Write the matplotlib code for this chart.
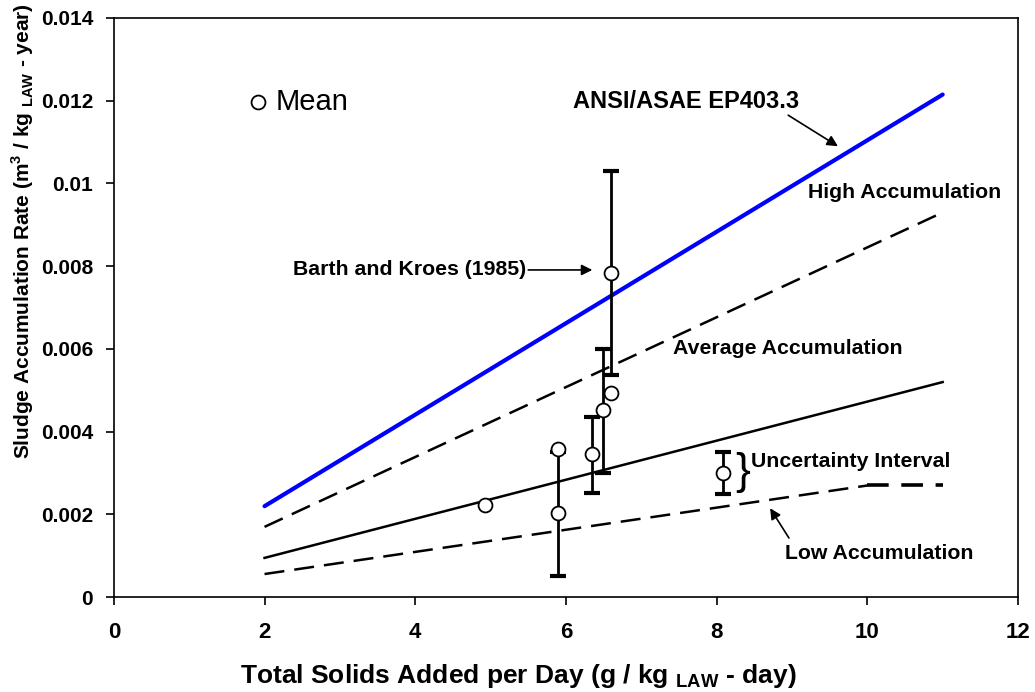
import matplotlib
matplotlib.use('Agg')
import matplotlib.pyplot as plt

plt.rcParams['font.family'] = 'Liberation Sans'
plt.rcParams['mathtext.fontset'] = 'custom'
plt.rcParams['mathtext.rm'] = 'Liberation Sans'
plt.rcParams['mathtext.bf'] = 'Liberation Sans:bold'

# lines (x, y)
ansi_x = [2, 11]
ansi_y = [0.0022, 0.01215]
high_x = [2, 11]
high_y = [0.0017, 0.0093]
avg_x = [2, 11]
avg_y = [0.00095, 0.0052]
low_x = [2, 10, 11]
low_y = [0.00056, 0.0027, 0.0027]

# means with error bars
err_x = [5.9, 6.34, 6.49, 6.6, 8.09]
err_mean = [0.00203, 0.00345, 0.00452, 0.00784, 0.00301]
err_lo = [0.00051, 0.00253, 0.00301, 0.00537, 0.00249]
err_hi = [0.00351, 0.00436, 0.0060, 0.01031, 0.00351]

# means without error bars
pt_x = [4.93, 5.9, 6.6]
pt_y = [0.00222, 0.00358, 0.00494]

fig = plt.figure(figsize=(10.35, 6.92), dpi=100)
ax = fig.add_axes([0.110, 0.137, 0.8736, 0.837])

ax.plot(ansi_x, ansi_y, color='#0000ff', lw=3, solid_capstyle='round', zorder=2)
ax.plot(high_x, high_y, color='black', lw=1.8, linestyle=(0, (8, 4)), zorder=2)
ax.plot(avg_x, avg_y, color='black', lw=1.8, zorder=2)
ax.plot(low_x[:2], low_y[:2], color='black', lw=1.8, linestyle=(0, (8, 4)), zorder=2)
ax.plot(low_x[1:], low_y[1:], color='black', lw=2.6, linestyle=(0, (6, 3.5)), zorder=2)

yerr = [[m - l for m, l in zip(err_mean, err_lo)],
        [h - m for m, h in zip(err_mean, err_hi)]]
ax.errorbar(err_x, err_mean, yerr=yerr, fmt='none', ecolor='black',
            elinewidth=2, capsize=6, capthick=3, zorder=3)
ax.plot(err_x + pt_x, err_mean + pt_y, 'o', ms=10, mfc='white', mec='black',
        mew=1.3, zorder=4)

# legend-like mean marker
ax.plot([1.91], [0.01197], 'o', ms=10, mfc='white', mec='black', mew=1.3, clip_on=False)
ax.text(2.15, 0.01197, 'Mean', fontsize=21, va='center', ha='left')

bold = dict(fontsize=15.3, fontweight='bold')
arrow = dict(arrowstyle='-|>', color='black', lw=1.2, shrinkA=0, shrinkB=0,
             mutation_scale=16)

ax.text(7.60, 0.01197, 'ANSI/ASAE EP403.3', ha='center', va='center',
        fontsize=17, fontweight='bold')
ax.annotate('', xy=(9.61, 0.01090), xytext=(8.95, 0.01165), arrowprops=arrow)
ax.text(10.49, 0.00979, 'High Accumulation', ha='center', va='center', **bold)
ax.text(3.93, 0.00791, 'Barth and Kroes (1985)', ha='center', va='center', **bold)
ax.annotate('', xy=(6.35, 0.00791), xytext=(5.50, 0.00791), arrowprops=arrow)
ax.text(8.95, 0.00600, 'Average Accumulation', ha='center', va='center', **bold)
ax.text(8.455, 0.00327, 'Uncertainty Interval', ha='left', va='center', **bold)
ax.text(8.25, 0.00302, '}', ha='left', va='center', fontsize=32)
ax.text(10.16, 0.00106, 'Low Accumulation', ha='center', va='center', **bold)
ax.annotate('', xy=(8.71, 0.00215), xytext=(8.96, 0.00143), arrowprops=arrow)

ax.set_xlim(0, 12)
ax.set_ylim(0, 0.014)
ax.set_xticks(range(0, 13, 2))
ax.set_yticks([0, 0.002, 0.004, 0.006, 0.008, 0.01, 0.012, 0.014])
ax.set_yticklabels(['0', '0.002', '0.004', '0.006', '0.008', '0.01', '0.012', '0.014'])
ax.tick_params(direction='out', length=6, width=1.2)
ax.tick_params(axis='y', pad=9, labelsize=15)
ax.tick_params(axis='x', pad=12, labelsize=16)
for lab in ax.get_xticklabels() + ax.get_yticklabels():
    lab.set_fontweight('bold')
for sp in ax.spines.values():
    sp.set_linewidth(1.2)

fig.text(0.501, 0.013, r'Total Solids Added per Day (g / kg $_\mathbf{LAW}$ - day)',
         fontsize=19, fontweight='bold', ha='center', va='baseline')
fig.text(0.0215, 1 - 231 / 692,
         r'Sludge Accumulation Rate (m$^\mathbf{3}$ / kg $_\mathbf{LAW}$ - year)',
         fontsize=15, fontweight='bold', ha='center', va='center', rotation=90)

fig.savefig('out.png', dpi=100)
